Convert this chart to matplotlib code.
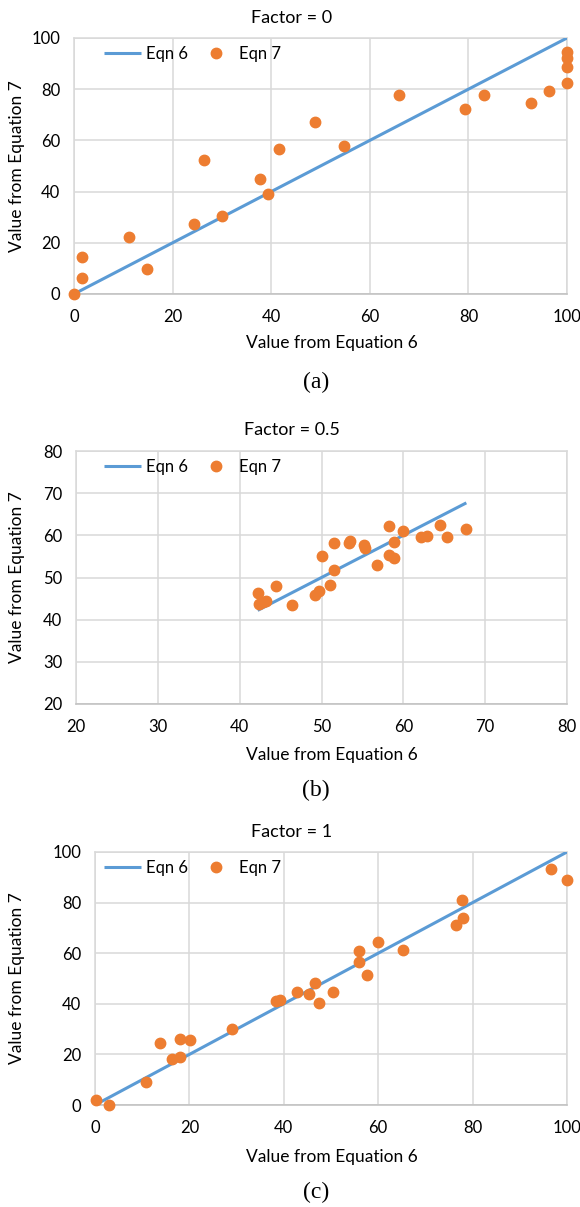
import matplotlib
matplotlib.use("Agg")
import matplotlib.pyplot as plt

plt.rcParams['font.family'] = ['Lato', 'DejaVu Sans']

# ---- data ----
# (a) Factor = 0
a_eq6 = [0, 1.6, 1.6, 11.1, 14.9, 24.4, 26.3, 30.0, 37.7, 39.4, 41.5,
         48.9, 54.7, 66.0, 79.4, 83.1, 92.6, 96.3, 100, 100, 100, 100]
a_eq7 = [0, 14.6, 6.4, 22.1, 9.9, 27.2, 52.5, 30.3, 45.1, 39.2, 56.7,
         67.1, 57.8, 77.9, 72.3, 77.9, 74.5, 79.3, 82.6, 88.8, 92.3, 94.6]
a_line = [0, 100]

# (b) Factor = 0.5
b_eq6 = [42.2, 42.4, 42.9, 43.2, 44.5, 46.4, 49.2, 49.7, 50.0, 51.0, 51.5,
         51.5, 53.3, 53.5, 55.2, 55.3, 56.8, 58.2, 58.2, 58.8, 58.9, 60.0,
         62.2, 62.9, 64.5, 65.3, 67.6]
b_eq7 = [46.4, 43.6, 44.1, 44.5, 47.9, 43.5, 45.8, 46.9, 55.0, 48.2, 58.3,
         51.7, 58.3, 58.6, 57.6, 57.0, 52.9, 62.1, 55.4, 54.7, 58.5, 61.0,
         59.5, 59.8, 62.4, 59.5, 61.6]
b_line = [42.2, 67.7]

# (c) Factor = 1
c_eq6 = [0.2, 3.0, 10.7, 13.7, 16.4, 18.0, 18.0, 20.1, 29.1, 38.4, 39.2,
         42.9, 45.3, 46.7, 47.5, 50.4, 55.9, 55.9, 57.6, 60.0, 65.3, 76.5,
         77.8, 77.9, 96.6, 100]
c_eq7 = [2.1, 0.1, 9.0, 24.5, 18.3, 19.0, 25.9, 25.5, 30.2, 41.2, 41.6,
         44.6, 43.7, 48.2, 40.4, 44.5, 60.7, 56.4, 51.3, 64.4, 61.4, 71.3,
         80.9, 74.1, 93.1, 89.1]
c_line = [0, 100]

titles = ["Factor = 0", "Factor = 0.5", "Factor = 1"]
captions = ["(a)", "(b)", "(c)"]
limits = [(0, 100, 20), (20, 80, 10), (0, 100, 20)]

W, H = 580, 1207
fig = plt.figure(figsize=(W / 100, H / 100), dpi=100)

# plot areas in pixels: left, right, top, bottom
boxes = [(74, 567, 38, 294), (76, 567, 451, 704), (95, 567, 852, 1105)]
title_y = [18, 430, 832]
xlab_y = [343, 755, 1157]
cap_y = [382, 790, 1192]

blue = '#5B9BD5'
orange = '#ED7D31'
grid = '#D9D9D9'

panels = [(a_eq6, a_eq7, a_line), (b_eq6, b_eq7, b_line), (c_eq6, c_eq7, c_line)]

for i, (xs, ys, ln) in enumerate(panels):
    l, r, t, b = boxes[i]
    ax = fig.add_axes([l / W, 1 - b / H, (r - l) / W, (b - t) / H])
    lo, hi, step = limits[i]
    ticks = list(range(lo, hi + 1, step))
    ax.set_xlim(lo, hi)
    ax.set_ylim(lo, hi)
    ax.set_xticks(ticks)
    ax.set_yticks(ticks)
    ax.grid(True, color=grid, linewidth=1.1)
    ax.set_axisbelow(True)
    for s in ax.spines.values():
        s.set_color(grid)
        s.set_linewidth(1.1)
    ax.spines['bottom'].set_color('#BFBFBF')
    ax.tick_params(length=0, labelsize=12, colors='#000000')
    ax.tick_params(axis='x', pad=11)
    ax.tick_params(axis='y', pad=10)

    ax.plot(ln, ln, color=blue, linewidth=2.2, label='Eqn 6', zorder=3,
            solid_capstyle='butt')
    ax.plot(xs, ys, linestyle='none', marker='o', markersize=7.5,
            color=orange, label='Eqn 7', zorder=4, clip_on=False)

    ax.legend(loc='center left', bbox_to_anchor=(104 / W, 1 - (t + 16) / H),
              bbox_transform=fig.transFigure, ncol=2, frameon=False,
              fontsize=12, handlelength=2.2, handletextpad=0.3,
              columnspacing=0.6, numpoints=1, borderaxespad=0, borderpad=0)

    fig.text(292 / W, 1 - title_y[i] / H, titles[i], ha='center', va='center',
             fontsize=13)
    fig.text(332 / W, 1 - xlab_y[i] / H, "Value from Equation 6", ha='center',
             va='center', fontsize=12.5)
    fig.text(17 / W, 1 - ((t + b) / 2) / H, "Value from Equation 7", ha='center',
             va='center', rotation=90, fontsize=12.5)
    fig.text(316 / W, 1 - cap_y[i] / H, captions[i], ha='center', va='center',
             fontsize=17, family='Liberation Serif')

fig.savefig("out.png", dpi=100)
